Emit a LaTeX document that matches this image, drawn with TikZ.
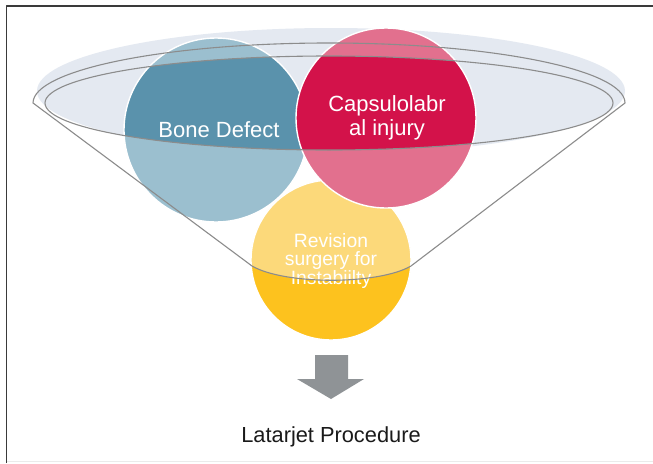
\documentclass[tikz,border=0pt]{standalone}
\usepackage{fontspec}
\setmainfont{Liberation Sans}
\definecolor{framec}{HTML}{3A3A3A}
\definecolor{shadec}{HTML}{E4E9F1}
\definecolor{bluedark}{HTML}{5A92AC}
\definecolor{bluelight}{HTML}{9BBFCF}
\definecolor{reddark}{HTML}{D3124A}
\definecolor{redlight}{HTML}{E2708E}
\definecolor{yellowlight}{HTML}{FCD97A}
\definecolor{yellowdark}{HTML}{FDC21E}
\definecolor{funnelc}{HTML}{8C8C8C}
\definecolor{arrowc}{HTML}{8F9396}
\definecolor{captionc}{HTML}{1A1A1A}
\tikzset{
  rimline/.style={draw=funnelc, line width=1.1pt},
  ringedge/.style={draw=white, line width=1.4pt},
  bigtext/.style={text=white, font=\fontsize{22}{23.5}\selectfont, align=center, inner sep=0pt},
  smalltext/.style={text=white, font=\fontsize{19.3}{18.5}\selectfont, align=center, inner sep=0pt},
}
\begin{document}
\begin{tikzpicture}[x=1pt,y=-1pt,line join=round]
\useasboundingbox (0,0) rectangle (653,463);
\fill[white] (0,0) rectangle (653,463);
% frame
\draw[framec, line width=1.6pt] (6.5,463) -- (6.5,6) -- (653,6);
\draw[black!8, line width=0.8pt] (7,461.5) -- (653,461.5);
% shaded glass ellipse
\fill[shadec] (331,91) ellipse [x radius=294, y radius=63];
% yellow circle
\fill[yellowdark] (331,260) circle [radius=80];
\begin{scope}
  \clip (331,260) circle [radius=80];
  \clip (33,103) -- (252,266) .. controls (285,285) and (378,285) .. (411,266) -- (625,103)
        arc [start angle=0, end angle=-180, x radius=296, y radius=60] -- cycle;
  \fill[yellowlight] (200,150) rectangle (460,345);
\end{scope}
\path[ringedge] (331,260) circle [radius=80];
% blue circle
\fill[bluelight] (216,130) circle [radius=92];
\begin{scope}
  \clip (216,130) circle [radius=92];
  \fill[bluedark] (329,103) ellipse [x radius=284, y radius=47];
\end{scope}
\path[ringedge] (216,130) circle [radius=92];
% red circle
\fill[redlight] (386,118) circle [radius=90];
\begin{scope}
  \clip (386,118) circle [radius=90];
  \fill[reddark] (329,103) ellipse [x radius=284, y radius=47];
\end{scope}
\path[ringedge] (386,118) circle [radius=90];
% texts (base anchor = baseline of the last line)
\node[bigtext, anchor=base] (bone) at (219,137) {Bone Defect};
\node[bigtext, anchor=base] (capsule) at (387,135) {Capsulolabr\\al injury};
\node[smalltext, anchor=base] (revision) at (331,284) {Revision\\surgery for\\Instabiilty};
% funnel outline
\path[rimline] (33,103) -- (252,266) .. controls (285,285) and (378,285) .. (411,266) -- (625,103)
      arc [start angle=0, end angle=-180, x radius=296, y radius=60] -- cycle;
\path[rimline] (329,103) ellipse [x radius=284, y radius=47];
% arrow
\fill[arrowc] (315,355) -- (348,355) -- (348,379) -- (364,379) -- (331,399) -- (297,379) -- (315,379) -- cycle;
\node[text=captionc, font=\fontsize{21.8}{24}\selectfont, anchor=base, inner sep=0pt] (latarjet) at (331,442) {Latarjet Procedure};
\end{tikzpicture}
\end{document}
